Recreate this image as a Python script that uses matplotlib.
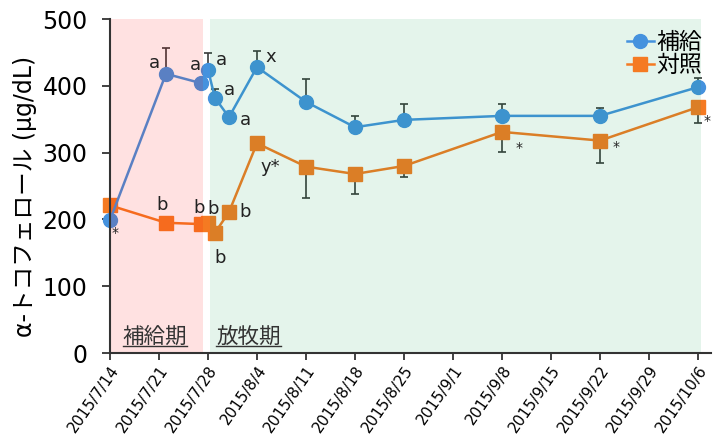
import datetime as dt
import matplotlib
matplotlib.use("Agg")
import matplotlib.pyplot as plt
import matplotlib.dates as mdates

plt.rcParams['font.family'] = ['DejaVu Sans', 'Noto Sans CJK JP']

# 採材日
dates = ["2015-07-14", "2015-07-22", "2015-07-27", "2015-07-28", "2015-07-29",
         "2015-07-31", "2015-08-04", "2015-08-11", "2015-08-18", "2015-08-25",
         "2015-09-08", "2015-09-22", "2015-10-06"]
# 補給区 (平均と上側SE)
supp = [199, 418, 404, 424, 382, 353, 428, 376, 338, 349, 355, 355, 398]
supp_err = [0, 39, 0, 25, 13, 0, 24, 34, 17, 24, 18, 12, 13]
# 対照区 (平均と下側SE)
ctrl = [221, 195, 193, 194, 180, 211, 314, 279, 268, 280, 331, 318, 368]
ctrl_err = [0, 0, 0, 0, 0, 0, 0, 47, 30, 16, 30, 34, 23]

supp_marks = ["*", "a", "a", "a", "a", "a", "x", "", "", "", "", "", ""]
ctrl_marks = ["", "b", "b", "b", "b", "b", "y*", "", "", "", "*", "*", "*"]
# ラベル位置 (px)
supp_off = [(5, -13), (-12, 11), (-6, 18), (13, 10), (14, 8), (16, -3), (14, 10),
            None, None, None, None, None, None]
ctrl_off = [None, (-4, 18), (-2, 16), (5, 14), (5, -25), (16, 0), (13, -24),
            None, None, None, (17, -16), (16, -6), (9, -14)]

ticks = ["2015-07-14", "2015-07-21", "2015-07-28", "2015-08-04", "2015-08-11",
         "2015-08-18", "2015-08-25", "2015-09-01", "2015-09-08", "2015-09-15",
         "2015-09-22", "2015-09-29", "2015-10-06"]

x = [dt.datetime.fromisoformat(d) for d in dates]
xt = [dt.datetime.fromisoformat(d) for d in ticks]
day = dt.timedelta(days=1)

blue = '#4592de'
orange = '#f57a22'

fig = plt.figure(figsize=(7.15, 4.41), dpi=100)
ax = fig.add_axes([0.1538, 0.1995, 0.8406, 0.7574])

# 期間の背景 (半透明で系列の上に重ねる)
t0 = xt[0]
ax.axvspan(t0, t0 + 13.3 * day, color='#ff0000', alpha=0.118, zorder=4.5, lw=0)
ax.axvspan(t0 + 14.3 * day, t0 + 84.4 * day, color='#00a04b', alpha=0.106,
           zorder=4.5, lw=0)

ax.errorbar(x, supp, yerr=[[0] * len(supp), supp_err], fmt='none',
            ecolor='#3a3a3a', elinewidth=1.2, capsize=3, capthick=1.2, zorder=2)
ax.errorbar(x, ctrl, yerr=[ctrl_err, [0] * len(ctrl)], fmt='none',
            ecolor='#3a3a3a', elinewidth=1.2, capsize=3, capthick=1.2, zorder=2)
ax.plot(x, supp, '-o', color=blue, lw=1.8, ms=10, mec=blue, label='補給', zorder=4,
        clip_on=False)
ax.plot(x, ctrl, '-s', color=orange, lw=1.8, ms=10, mec=orange, label='対照', zorder=3,
        clip_on=False)

px = 0.72
for xi, yi, m, off in zip(x, supp, supp_marks, supp_off):
    if m:
        fs = 10 if m == "*" else 13
        ax.annotate(m, (xi, yi), xytext=(off[0] * px, off[1] * px),
                    textcoords='offset points', ha='center', va='center',
                    fontsize=fs, color='#222222', zorder=5)
for xi, yi, m, off in zip(x, ctrl, ctrl_marks, ctrl_off):
    if m:
        fs = 10 if m == "*" else 13
        ax.annotate(m, (xi, yi), xytext=(off[0] * px, off[1] * px),
                    textcoords='offset points', ha='center', va='center',
                    fontsize=fs, color='#222222', zorder=5)

ax.set_xlim(t0, xt[-1] + 1.86 * day)
ax.set_ylim(0, 500)
ax.set_yticks([0, 100, 200, 300, 400, 500])
ax.set_xticks(xt)
ax.xaxis.set_major_formatter(
    matplotlib.ticker.FuncFormatter(lambda v, p: (lambda d: f"{d.year}/{d.month}/{d.day}")(mdates.num2date(v))))
ax.tick_params(axis='y', labelsize=17, length=6, width=1.3, color='#333333', pad=10)
ax.tick_params(axis='x', labelsize=11, length=5, width=1.3, color='#333333',
               labelrotation=55, pad=2)
for lab in ax.get_xticklabels():
    lab.set_ha('right')
    lab.set_rotation_mode('anchor')
for s in ['top', 'right']:
    ax.spines[s].set_visible(False)
for s in ['left', 'bottom']:
    ax.spines[s].set_linewidth(1.5)
    ax.spines[s].set_color('#333333')
    ax.spines[s].set_zorder(6)

ax.set_ylabel('α-トコフェロール (μg/dL)', fontsize=17)
ax.yaxis.set_label_coords(-0.122, 0.47)

# 期間名 (下線付き)
periods = [("補給期", t0 + 1.8 * day), ("放牧期", t0 + 15.2 * day)]
fig.canvas.draw()
for name, xs in periods:
    t = ax.text(xs, 24, name, fontsize=15.5, color='#333333', ha='left', va='center',
                family=['Noto Sans CJK JP'], zorder=5)
    bb = t.get_window_extent(renderer=fig.canvas.get_renderer())
    inv = ax.transData.inverted()
    (xa, _), (xb, _) = inv.transform([(bb.x0, bb.y0), (bb.x1, bb.y0)])
    ax.plot([mdates.num2date(xa), mdates.num2date(xb)], [11, 11], color='#333333',
            lw=1.0, zorder=5)

leg = ax.legend(loc='upper right', bbox_to_anchor=(1.012, 1.012), frameon=False,
                handlelength=1.2, handletextpad=0.1, borderaxespad=0.3,
                labelspacing=0.0, prop={'family': ['Noto Sans CJK JP'], 'size': 16.5})
leg.set_zorder(6)

fig.savefig('out.png', dpi=100)
